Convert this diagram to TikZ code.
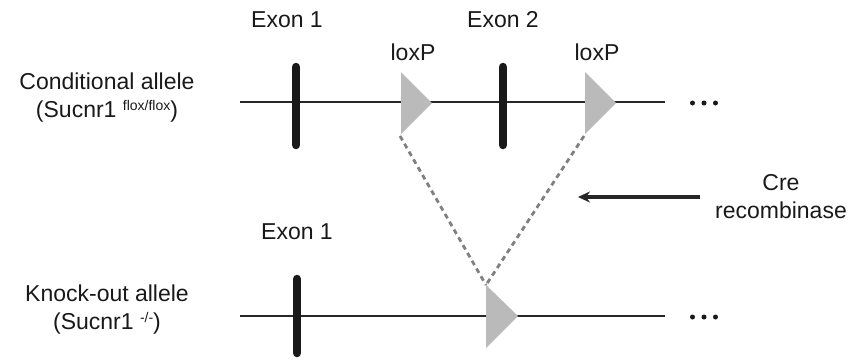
\documentclass[tikz,border=0pt]{standalone}
\usepackage{fontspec}
\setmainfont{Liberation Sans}
\usetikzlibrary{arrows.meta}
\begin{document}
\begin{tikzpicture}[x=1pt,y=-1pt,
  lbl/.style={font=\fontsize{23}{28}\selectfont, inner sep=0pt, align=center, text=black!90},
  dna/.style={line width=2.8pt, draw=black!85},
  exonbar/.style={line width=8.5pt, line cap=round, draw=black!90},
  lox/.style={fill=black!27},
  cut/.style={dash pattern=on 5pt off 4pt, line width=2.8pt, draw=black!50},
  dotmark/.style={fill=black!90},
  crearrow/.style={line width=3.2pt, draw=black!85, -{Stealth[length=12pt,width=11pt]}},
]
\useasboundingbox (0,0) rectangle (856,360);

% labels
\node[lbl] (cond) at (107,98) {Conditional allele\\(Sucnr1 \raisebox{7pt}{\fontsize{14}{14}\selectfont flox/flox})};
\node[lbl] (ko) at (107,310) {Knock-out allele\\(Sucnr1 \raisebox{7pt}{\fontsize{14}{14}\selectfont -/-})};
\node[lbl] (ex1t) at (287,20) {Exon 1};
\node[lbl] (ex2t) at (503,20) {Exon 2};
\node[lbl] (lox1t) at (413,52) {loxP};
\node[lbl] (lox2t) at (597,52) {loxP};
\node[lbl] (ex1b) at (297,232) {Exon 1};
\node[lbl] (cre) at (781,197) {Cre\\recombinase};

% top allele
\coordinate (tL) at (240,102);
\coordinate (tR) at (665,102);
\draw[dna] (tL) -- (tR);
\coordinate (e1a) at (296,67);
\coordinate (e1b) at (296,145);
\draw[exonbar] (e1a) -- (e1b);
\coordinate (e2a) at (503,67);
\coordinate (e2b) at (503,145);
\draw[exonbar] (e2a) -- (e2b);
\coordinate (l1top) at (401,72);
\coordinate (l1bot) at (401,134);
\coordinate (l1tip) at (432,103);
\fill[lox] (l1top) -- (l1tip) -- (l1bot) -- cycle;
\coordinate (l2top) at (585,72);
\coordinate (l2bot) at (585,134);
\coordinate (l2tip) at (616,103);
\fill[lox] (l2top) -- (l2tip) -- (l2bot) -- cycle;
\fill[dotmark] (692.5,103) circle (2.5pt) (704,103) circle (2.5pt) (715.5,103) circle (2.5pt);

% bottom allele
\coordinate (bL) at (240,316);
\coordinate (bR) at (665,316);
\draw[dna] (bL) -- (bR);
\coordinate (e3a) at (297,279);
\coordinate (e3b) at (297,353);
\draw[exonbar] (e3a) -- (e3b);
\coordinate (l3top) at (486,285);
\coordinate (l3bot) at (486,348);
\coordinate (l3tip) at (518,316);
\fill[lox] (l3top) -- (l3tip) -- (l3bot) -- cycle;
\fill[dotmark] (692.5,317) circle (2.5pt) (704,317) circle (2.5pt) (715.5,317) circle (2.5pt);

% recombination
\draw[cut] (l1bot) ++(-1,2) -- (l3top);
\draw[cut] (l2bot) ++(-1,2) -- (l3top);

% Cre arrow
\coordinate (creS) at (700,197);
\coordinate (creE) at (578,197);
\draw[crearrow] (creS) -- (creE);
\end{tikzpicture}
\end{document}
